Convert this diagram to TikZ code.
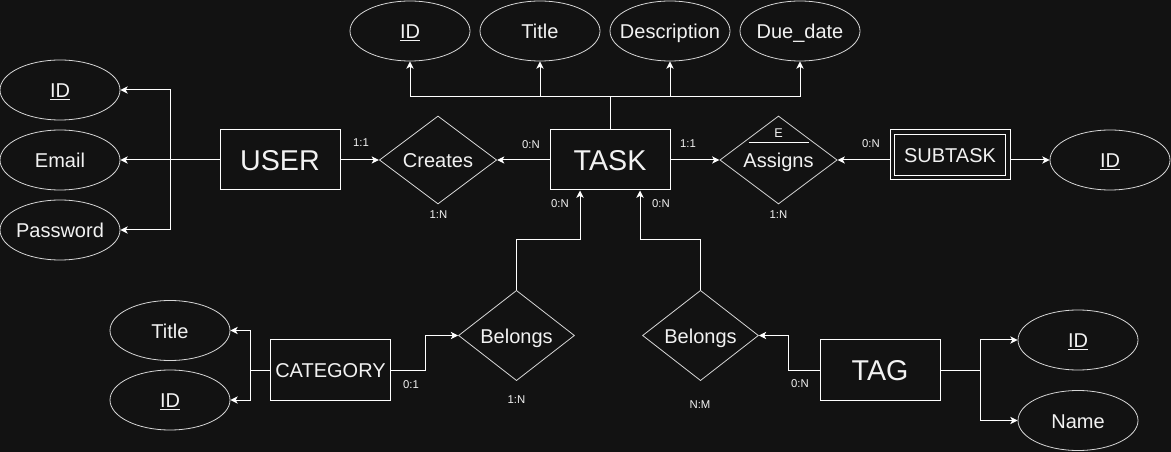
\documentclass[tikz,border=0pt]{standalone}
\usepackage{fontspec}
\setmainfont{Liberation Sans}
\usepackage{tikz}
\usetikzlibrary{arrows.meta,shapes.geometric,calc}
\definecolor{canvas}{HTML}{121212}
\definecolor{ink}{HTML}{F2F2F2}
\definecolor{rim}{HTML}{D6D6D6}

\begin{document}
\begin{tikzpicture}[x=0.75pt,y=-0.75pt,
  >={Stealth[length=5.5pt,width=5.5pt,inset=1.5pt]},
  every node/.style={text=ink},
  entity/.style={draw=white,line width=0.75pt,minimum width=90pt,minimum height=45pt,
                 inner sep=0pt,text height=16pt,text depth=0.5pt,font=\fontsize{21.5}{24}\selectfont},
  smallentity/.style={entity,text height=12pt,text depth=1pt,font=\fontsize{15}{18}\selectfont},
  attr/.style={ellipse,draw=rim,line width=0.6pt,minimum width=90pt,minimum height=45pt,
               inner xsep=-12pt,inner ysep=0pt,text height=12.5pt,text depth=1pt,
               font=\fontsize{15}{18}\selectfont},
  rel/.style={diamond,draw=rim,line width=0.6pt,minimum width=88pt,minimum height=60pt,
              inner sep=0pt,text height=12.5pt,text depth=1pt,font=\fontsize{15}{18}\selectfont},
  tallrel/.style={rel,minimum width=87pt,minimum height=67.5pt},
  card/.style={inner sep=0pt,font=\fontsize{8.5}{10}\selectfont},
  link/.style={->,draw=white,line width=0.75pt}]
\useasboundingbox (0,0) rectangle (1171,452);
\fill[canvas] (0,0) rectangle (1171,452);

\node[entity] (user) at (280,160) {USER};
\node[entity] (task) at (610,160) {TASK};
\node[smallentity,minimum height=37.5pt] (subtask) at (950,155) {SUBTASK};
\node[smallentity] (category) at (330.5,370) {CATEGORY};
\node[entity] (tag) at (880,370) {TAG};

\node[rel] (creates) at (438,160) {Creates};
\node[rel] (assigns) at (778.5,160) {Assigns};
\node[tallrel] (belongscat) at (516.5,335.5) {Belongs};
\node[tallrel] (belongstag) at (700.5,335.5) {Belongs};

\node[attr] (userid) at (60,90) {\underline{ID}};
\node[attr] (useremail) at (60,160) {Email};
\node[attr] (userpass) at (60,230) {Password};
\node[attr] (taskid) at (410,31) {\underline{ID}};
\node[attr] (tasktitle) at (540,31) {Title};
\node[attr] (taskdesc) at (670,31) {Description};
\node[attr] (taskdue) at (800,31) {Due\_date};
\node[attr] (subid) at (1110,160) {\underline{ID}};
\node[attr] (cattitle) at (170,330.5) {Title};
\node[attr] (catid) at (170,400) {\underline{ID}};
\node[attr] (tagid) at (1078,340) {\underline{ID}};
\node[attr] (tagname) at (1078,420.5) {Name};

\draw[white,line width=0.75pt] ([shift={(5,5)}]subtask.north west) rectangle ([shift={(-5,-5)}]subtask.south east);
\node[inner sep=0pt,font=\fontsize{9.5}{11}\selectfont] (weakmark) at (778.5,133) {E};
\draw[white,line width=0.75pt] ([shift={(-30,-17)}]assigns.center) -- ([shift={(30,-17)}]assigns.center);

\coordinate (userbus) at (170,160);
\coordinate (taskbus) at (610,97);
\draw[link] (user.west) -- (useremail.east);
\draw[link] (userbus) |- (userid.east);
\draw[link] (userbus) |- (userpass.east);
\draw[link] (task.north) -- (taskbus) -| (taskid.south);
\draw[link] (taskbus) -| (tasktitle.south);
\draw[link] (taskbus) -| (taskdesc.south);
\draw[link] (taskbus) -| (taskdue.south);
\draw[link] (user.east) -- (creates.west);
\draw[link] (task.west) -- (creates.east);
\draw[link] (task.east) -- (assigns.west);
\draw[link] (subtask.west |- assigns.east) -- (assigns.east);
\draw[link] (subtask.east |- subid.west) -- (subid.west);
\draw[link] (belongscat.north) -- ++(0,-50) -| ([xshift=-22.5pt]task.south);
\draw[link] (belongstag.north) -- ++(0,-50) -| ([xshift=22.5pt]task.south);
\draw[link] (category.east) -- ++(34,0) |- (belongscat.west);
\draw[link] (category.west) -- ++(-20,0) |- (cattitle.east);
\draw[link] (category.west) -- ++(-20,0) |- (catid.east);
\draw[link] (tag.west) -- ++(-31,0) |- (belongstag.east);
\draw[link] (tag.east) -- ++(40,0) |- (tagid.west);
\draw[link] (tag.east) -- ++(40,0) |- (tagname.west);

\node[card] (c1) at (361,143) {1:1};
\node[card] (c2) at (531,145) {0:N};
\node[card] (c3) at (438.5,215) {1:N};
\node[card] (c4) at (688,144) {1:1};
\node[card] (c5) at (871,144) {0:N};
\node[card] (c6) at (778.5,215) {1:N};
\node[card] (c7) at (560,204) {0:N};
\node[card] (c8) at (661,204) {0:N};
\node[card] (c9) at (411,385) {0:1};
\node[card] (c10) at (516.5,399.5) {1:N};
\node[card] (c11) at (700,405) {N:M};
\node[card] (c12) at (800,384) {0:N};
\end{tikzpicture}
\end{document}
